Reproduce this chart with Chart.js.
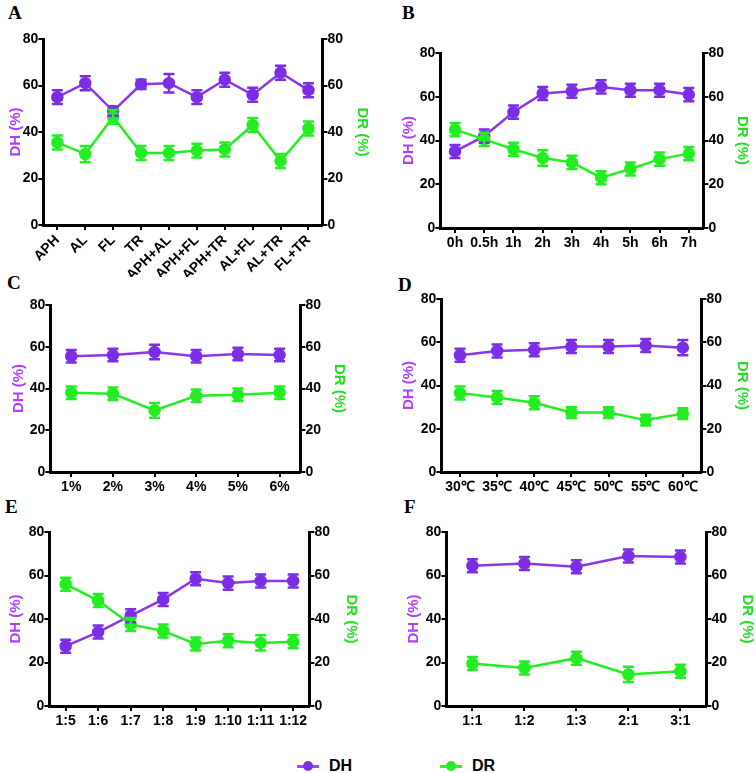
<!DOCTYPE html>
<html>
<head>
<meta charset="utf-8">
<script src="https://cdn.jsdelivr.net/npm/chart.js@4.4.1/dist/chart.umd.min.js"></script>
<style>
  body { margin: 0; background: #fff; }
  #page { position: relative; width: 756px; height: 773px; overflow: hidden; font-family: "Liberation Sans", Arial, sans-serif; }
  .box { position: absolute; }
  .letter { position: absolute; font-family: "Liberation Serif", "Times New Roman", serif; font-weight: bold; font-size: 19px; }
  .legend { position: absolute; top: 757px; font-weight: bold; font-size: 16px; display: flex; align-items: center; }
  .legend .mk { position: relative; width: 22px; height: 3px; margin-right: 10px; }
  .legend .mk i { position: absolute; left: 6px; top: -4px; width: 10px; height: 10px; border-radius: 50%; }
</style>
</head>
<body>
<div id="page">
  <div class="letter" style="left:8px;top:2px">A</div>
  <div class="letter" style="left:402px;top:2px">B</div>
  <div class="letter" style="left:7px;top:272px">C</div>
  <div class="letter" style="left:398px;top:274px">D</div>
  <div class="letter" style="left:5px;top:496px">E</div>
  <div class="letter" style="left:404px;top:496px">F</div>
  <div class="legend" style="left:297px"><span class="mk" style="background:#9a4cf2"><i style="background:#7b2ee6"></i></span>DH</div>
  <div class="legend" style="left:440px"><span class="mk" style="background:#33ee33"><i style="background:#22ee22"></i></span>DR</div>
</div>
<script>
// A: single and combined enzymes
const catA = ['APH', 'AL', 'FL', 'TR', 'APH+AL', 'APH+FL', 'APH+TR', 'AL+FL', 'AL+TR', 'FL+TR'];
const dhA = [55, 61, 49, 60.5, 61, 55, 62.5, 56, 65.5, 58];
const dhErrA = [3, 3, 2, 2, 4, 3, 3, 3, 3, 3];
const drA = [35.5, 30.5, 46.5, 31, 31, 32, 32.5, 43, 27.5, 41.5];
const drErrA = [3, 3.5, 3, 3, 3, 3, 3, 3, 3, 3];

// B: hydrolysis time
const catB = ['0h', '0.5h', '1h', '2h', '3h', '4h', '5h', '6h', '7h'];
const dhB = [35, 42, 53, 61.5, 62.5, 64.5, 63, 63, 61];
const dhErrB = [3, 3, 3, 3, 3, 3, 3, 3, 3];
const drB = [45, 40.5, 36, 32, 30, 23, 27, 31.5, 34];
const drErrB = [3, 3, 3, 3.5, 3, 3, 3, 3, 3];

// C: enzyme dosage
const catC = ['1%', '2%', '3%', '4%', '5%', '6%'];
const dhC = [55.5, 56, 57.5, 55.5, 56.5, 56];
const dhErrC = [3, 3, 3.5, 3, 3, 3];
const drC = [38, 37.5, 29.5, 36.5, 37, 38];
const drErrC = [3, 3, 3.5, 3, 3, 3];

// D: temperature
const catD = ['30℃', '35℃', '40℃', '45℃', '50℃', '55℃', '60℃'];
const dhD = [54, 56, 56.5, 58, 58, 58.5, 57.5];
const dhErrD = [3, 3, 3, 3, 3, 3, 3.5];
const drD = [36.5, 34.5, 32, 27.5, 27.5, 24, 27];
const drErrD = [3, 3, 3, 2.5, 2.5, 2.5, 2.5];

// E: solid-liquid ratio
const catE = ['1:5', '1:6', '1:7', '1:8', '1:9', '1:10', '1:11', '1:12'];
const dhE = [27.5, 34, 41.5, 49, 58.5, 56.5, 57.5, 57.5];
const dhErrE = [3, 3, 3, 3, 3, 3, 3, 3];
const drE = [56, 48.5, 37.5, 34.5, 28.5, 30, 29, 29.5];
const drErrE = [3, 3, 3, 3, 3, 3, 3.5, 3];

// F: enzyme ratio
const catF = ['1:1', '1:2', '1:3', '2:1', '3:1'];
const dhF = [64.5, 65.5, 64, 69, 68.5];
const dhErrF = [3, 3, 3, 3, 3];
const drF = [19.5, 17.5, 22, 14.5, 16];
const drErrF = [3, 3, 3, 3.5, 3];

const yTicks = [0, 20, 40, 60, 80];

// page geometry: axis lines (L, R, T, B), axis title centres (tl, tr), x label room (xh)
const panels = [
  { cats: catA, dh: dhA, dhErr: dhErrA, dr: drA, drErr: drErrA, L: 43, R: 322, T: 39, B: 225, tl: 15, tr: 362, xh: 52, rot: 45 },
  { cats: catB, dh: dhB, dhErr: dhErrB, dr: drB, drErr: drErrB, L: 440, R: 703, T: 53, B: 228, tl: 408, tr: 742, xh: 28, rot: 0 },
  { cats: catC, dh: dhC, dhErr: dhErrC, dr: drC, drErr: drErrC, L: 50, R: 300, T: 305, B: 472, tl: 18, tr: 339, xh: 28, rot: 0 },
  { cats: catD, dh: dhD, dhErr: dhErrD, dr: drD, drErr: drErrD, L: 441, R: 701, T: 299, B: 472, tl: 408, tr: 742, xh: 28, rot: 0 },
  { cats: catE, dh: dhE, dhErr: dhErrE, dr: drE, drErr: drErrE, L: 49, R: 309, T: 532, B: 706, tl: 15, tr: 351, xh: 28, rot: 0 },
  { cats: catF, dh: dhF, dhErr: dhErrF, dr: drF, drErr: drErrF, L: 446, R: 706, T: 532, B: 706, tl: 413, tr: 747, xh: 28, rot: 0 }
];

const DH_COLOR = '#8a36ee';
const DH_POINT = '#7b2ee6';
const DR_COLOR = '#22ee22';
const tickFont = { family: 'Arial, "Liberation Sans", sans-serif', weight: 'bold', size: 14 };
const titleFont = { family: 'Arial, "Liberation Sans", sans-serif', weight: 'bold', size: 15 };

const errorBars = {
  id: 'errorBars',
  afterDatasetsDraw(chart) {
    const ctx = chart.ctx;
    chart.data.datasets.forEach((ds, i) => {
      const meta = chart.getDatasetMeta(i);
      const ys = chart.scales[ds.yAxisID];
      ctx.save();
      ctx.strokeStyle = ds.pointBackgroundColor;
      ctx.lineWidth = 2.5;
      meta.data.forEach((pt, j) => {
        const v = ds.data[j], e = ds.errors[j];
        const y1 = ys.getPixelForValue(v + e);
        const y2 = ys.getPixelForValue(v - e);
        ctx.beginPath();
        ctx.moveTo(pt.x, y1); ctx.lineTo(pt.x, y2);
        ctx.moveTo(pt.x - 5.5, y1); ctx.lineTo(pt.x + 5.5, y1);
        ctx.moveTo(pt.x - 5.5, y2); ctx.lineTo(pt.x + 5.5, y2);
        ctx.stroke();
      });
      ctx.restore();
    });
  }
};

const page = document.getElementById('page');
const TOFF = 8.4; // half line height of the axis title

panels.forEach(p => {
  const left = p.tl - TOFF, right = p.tr + TOFF;
  const top = p.T - 12, bottom = p.B + p.xh;
  const div = document.createElement('div');
  div.className = 'box';
  div.style.left = left + 'px';
  div.style.top = top + 'px';
  div.style.width = (right - left) + 'px';
  div.style.height = (bottom - top) + 'px';
  const cv = document.createElement('canvas');
  div.appendChild(cv);
  page.appendChild(div);

  const yAxis = (pos, text, color, w) => ({
    type: 'linear', position: pos, min: 0, max: 80,
    afterBuildTicks: s => { s.ticks = yTicks.map(v => ({ value: v })); },
    ticks: { color: '#000', font: tickFont, padding: 0 },
    border: { color: '#000', width: 3 },
    grid: { drawOnChartArea: false, color: '#000', lineWidth: 2, tickLength: 5 },
    title: { display: true, text: text, color: color, font: titleFont, padding: 0 },
    afterFit: s => { s.width = w; }
  });

  new Chart(cv, {
    type: 'line',
    data: {
      labels: p.cats,
      datasets: [
        { label: 'DH', data: p.dh, errors: p.dhErr, yAxisID: 'y', order: 1,
          borderColor: DH_COLOR, borderWidth: 2.5, pointBackgroundColor: DH_POINT,
          pointBorderColor: DH_POINT, pointRadius: 5, tension: 0 },
        { label: 'DR', data: p.dr, errors: p.drErr, yAxisID: 'y1', order: 0,
          borderColor: DR_COLOR, borderWidth: 2.5, pointBackgroundColor: DR_COLOR,
          pointBorderColor: DR_COLOR, pointRadius: 5, tension: 0 }
      ]
    },
    options: {
      responsive: true,
      maintainAspectRatio: false,
      animation: false,
      layout: { padding: { top: 12, left: 0, right: 0, bottom: 0 } },
      plugins: { legend: { display: false }, tooltip: { enabled: false } },
      scales: {
        x: {
          type: 'category', offset: true,
          ticks: { color: '#000', font: tickFont, padding: 2, autoSkip: false,
                   minRotation: p.rot, maxRotation: p.rot },
          border: { color: '#000', width: 3 },
          grid: { offset: false, drawOnChartArea: false, color: '#000', lineWidth: 2, tickLength: 5 },
          afterFit: s => { s.height = p.xh; }
        },
        y: yAxis('left', 'DH (%)', '#b040f8', p.L - left),
        y1: yAxis('right', 'DR (%)', '#22dd22', right - p.R)
      }
    },
    plugins: [errorBars]
  });
});
</script>
</body>
</html>
